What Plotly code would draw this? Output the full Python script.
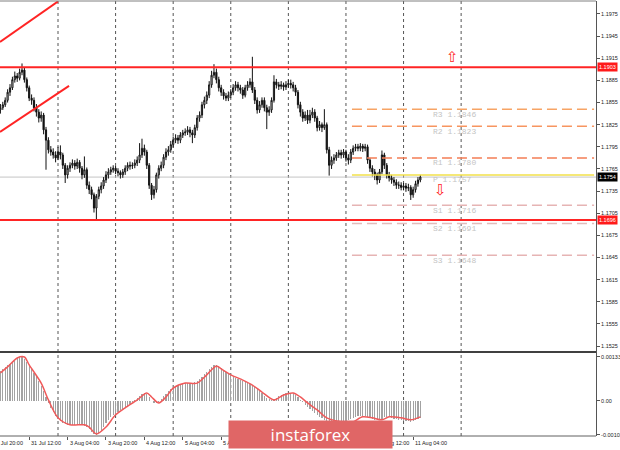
import plotly.graph_objects as go

# ---------------- data (EURUSD H1) ----------------
first_open = 1.1845
closes = [
    1.1848, 1.1852, 1.1858, 1.1869, 1.1875, 1.1886, 1.1891, 1.1888, 1.1896, 1.1899,
    1.1886, 1.1875, 1.1861, 1.1858, 1.1848, 1.1842, 1.1834, 1.1838, 1.1818, 1.1804,
    1.1791, 1.1788, 1.1784, 1.1780, 1.1788, 1.1784, 1.1770, 1.1757, 1.1766, 1.1770,
    1.1773, 1.1769, 1.1774, 1.1766, 1.1757, 1.1764, 1.1743, 1.1737, 1.1730, 1.1712,
    1.1728, 1.1737, 1.1742, 1.1750, 1.1757, 1.1761, 1.1764, 1.1766, 1.1762, 1.1760,
    1.1757, 1.1761, 1.1766, 1.1770, 1.1769, 1.1770, 1.1773, 1.1777, 1.1784, 1.1793,
    1.1788, 1.1770, 1.1743, 1.1730, 1.1737, 1.1757, 1.1766, 1.1770, 1.1781, 1.1788,
    1.1791, 1.1798, 1.1804, 1.1807, 1.1804, 1.1811, 1.1814, 1.1815, 1.1818, 1.1814,
    1.1811, 1.1821, 1.1834, 1.1838, 1.1852, 1.1858, 1.1865, 1.1879, 1.1892, 1.1896,
    1.1886, 1.1875, 1.1869, 1.1864, 1.1861, 1.1865, 1.1869, 1.1875, 1.1879, 1.1875,
    1.1872, 1.1865, 1.1875, 1.1879, 1.1883, 1.1872, 1.1858, 1.1845, 1.1852, 1.1858,
    1.1848, 1.1842, 1.1845, 1.1858, 1.1883, 1.1879, 1.1877, 1.1879, 1.1876, 1.1879,
    1.1881, 1.1879, 1.1875, 1.1869, 1.1852, 1.1842, 1.1834, 1.1838, 1.1831, 1.1838,
    1.1842, 1.1834, 1.1821, 1.1825, 1.1821, 1.1825, 1.1791, 1.1770, 1.1777, 1.1780,
    1.1784, 1.1787, 1.1784, 1.1788, 1.1780, 1.1777, 1.1788, 1.1793, 1.1795, 1.1793,
    1.1796, 1.1793, 1.1795, 1.1777, 1.1766, 1.1761, 1.1757, 1.1750, 1.1761, 1.1784,
    1.1770, 1.1757, 1.1753, 1.1750, 1.1747, 1.1743, 1.1743, 1.1740, 1.1742, 1.1739,
    1.1740, 1.1730, 1.1737, 1.1745, 1.1750, 1.1754]
highs = [
    1.1853, 1.1856, 1.1862, 1.1873, 1.1880, 1.1890, 1.1897, 1.1895, 1.1901, 1.1908,
    1.1903, 1.1889, 1.1878, 1.1866, 1.1862, 1.1853, 1.1846, 1.1843, 1.1841, 1.1822,
    1.1808, 1.1796, 1.1793, 1.1789, 1.1795, 1.1797, 1.1787, 1.1773, 1.1770, 1.1774,
    1.1778, 1.1777, 1.1779, 1.1777, 1.1769, 1.1782, 1.1767, 1.1748, 1.1741, 1.1733,
    1.1731, 1.1741, 1.1747, 1.1754, 1.1762, 1.1766, 1.1768, 1.1770, 1.1769, 1.1766,
    1.1763, 1.1765, 1.1770, 1.1774, 1.1775, 1.1774, 1.1778, 1.1782, 1.1800, 1.1806,
    1.1798, 1.1791, 1.1773, 1.1746, 1.1742, 1.1760, 1.1770, 1.1775, 1.1785, 1.1793,
    1.1796, 1.1803, 1.1809, 1.1812, 1.1811, 1.1815, 1.1818, 1.1820, 1.1823, 1.1822,
    1.1818, 1.1825, 1.1838, 1.1843, 1.1856, 1.1863, 1.1870, 1.1884, 1.1898, 1.1907,
    1.1901, 1.1890, 1.1879, 1.1873, 1.1868, 1.1870, 1.1873, 1.1880, 1.1884, 1.1883,
    1.1879, 1.1876, 1.1879, 1.1884, 1.1888, 1.1917, 1.1876, 1.1862, 1.1857, 1.1862,
    1.1862, 1.1852, 1.1850, 1.1862, 1.1892, 1.1887, 1.1883, 1.1884, 1.1882, 1.1884,
    1.1886, 1.1886, 1.1883, 1.1879, 1.1872, 1.1856, 1.1846, 1.1843, 1.1845, 1.1845,
    1.1848, 1.1846, 1.1837, 1.1830, 1.1828, 1.1846, 1.1828, 1.1795, 1.1782, 1.1785,
    1.1788, 1.1791, 1.1791, 1.1792, 1.1791, 1.1785, 1.1792, 1.1797, 1.1799, 1.1799,
    1.1800, 1.1799, 1.1799, 1.1798, 1.1780, 1.1770, 1.1765, 1.1760, 1.1765, 1.1790,
    1.1787, 1.1773, 1.1761, 1.1757, 1.1754, 1.1751, 1.1748, 1.1747, 1.1746, 1.1746,
    1.1745, 1.1743, 1.1741, 1.1749, 1.1754, 1.1757]
lows = [
    1.1840, 1.1845, 1.1849, 1.1855, 1.1864, 1.1872, 1.1882, 1.1883, 1.1885, 1.1892,
    1.1882, 1.1870, 1.1857, 1.1852, 1.1843, 1.1836, 1.1828, 1.1829, 1.1812, 1.1764,
    1.1786, 1.1783, 1.1779, 1.1774, 1.1777, 1.1778, 1.1765, 1.1746, 1.1752, 1.1761,
    1.1766, 1.1764, 1.1765, 1.1760, 1.1751, 1.1753, 1.1738, 1.1731, 1.1724, 1.1706,
    1.1697, 1.1724, 1.1732, 1.1738, 1.1746, 1.1752, 1.1757, 1.1760, 1.1758, 1.1755,
    1.1752, 1.1753, 1.1757, 1.1762, 1.1764, 1.1765, 1.1766, 1.1769, 1.1773, 1.1780,
    1.1783, 1.1765, 1.1738, 1.1723, 1.1725, 1.1733, 1.1752, 1.1762, 1.1766, 1.1777,
    1.1783, 1.1787, 1.1794, 1.1800, 1.1799, 1.1800, 1.1807, 1.1810, 1.1811, 1.1808,
    1.1800, 1.1807, 1.1817, 1.1829, 1.1834, 1.1847, 1.1853, 1.1861, 1.1875, 1.1888,
    1.1881, 1.1870, 1.1864, 1.1859, 1.1857, 1.1857, 1.1861, 1.1865, 1.1871, 1.1870,
    1.1867, 1.1860, 1.1862, 1.1871, 1.1875, 1.1868, 1.1853, 1.1840, 1.1841, 1.1848,
    1.1843, 1.1819, 1.1837, 1.1841, 1.1855, 1.1874, 1.1872, 1.1873, 1.1871, 1.1872,
    1.1875, 1.1874, 1.1870, 1.1864, 1.1847, 1.1836, 1.1829, 1.1830, 1.1826, 1.1827,
    1.1834, 1.1829, 1.1816, 1.1817, 1.1815, 1.1818, 1.1786, 1.1756, 1.1765, 1.1772,
    1.1776, 1.1780, 1.1779, 1.1780, 1.1775, 1.1771, 1.1773, 1.1784, 1.1789, 1.1789,
    1.1789, 1.1788, 1.1789, 1.1772, 1.1761, 1.1755, 1.1750, 1.1744, 1.1746, 1.1758,
    1.1765, 1.1752, 1.1748, 1.1745, 1.1742, 1.1738, 1.1738, 1.1736, 1.1736, 1.1734,
    1.1735, 1.1723, 1.1726, 1.1733, 1.1741, 1.1747]

macd_hist = [
    0.00092, 0.00097, 0.00102, 0.00108, 0.00113, 0.00119, 0.00125, 0.00130, 0.00133, 0.00132,
    0.00126, 0.00118, 0.00108, 0.00097, 0.00086, 0.00074, 0.00060, 0.00046, 0.00030, 0.00012,
    -0.00005, -0.00020, -0.00034, -0.00046, -0.00055, -0.00062, -0.00067, -0.00071, -0.00073, -0.00074,
    -0.00073, -0.00072, -0.00072, -0.00072, -0.00073, -0.00075, -0.00079, -0.00086, -0.00094, -0.00100,
    -0.00102, -0.00098, -0.00090, -0.00080, -0.00068, -0.00058, -0.00050, -0.00043, -0.00038, -0.00033,
    -0.00028, -0.00024, -0.00019, -0.00014, -0.00009, -0.00004, 0.00002, 0.00008, 0.00015, 0.00021,
    0.00025, 0.00022, 0.00012, 0.00001, -0.00005, -0.00006, -0.00002, 0.00006, 0.00014, 0.00022,
    0.00030, 0.00036, 0.00041, 0.00045, 0.00048, 0.00051, 0.00053, 0.00054, 0.00054, 0.00054,
    0.00055, 0.00057, 0.00061, 0.00066, 0.00072, 0.00080, 0.00088, 0.00096, 0.00103, 0.00108,
    0.00108, 0.00105, 0.00100, 0.00094, 0.00088, 0.00083, 0.00078, 0.00074, 0.00070, 0.00067,
    0.00064, 0.00061, 0.00058, 0.00055, 0.00052, 0.00048, 0.00043, 0.00037, 0.00030, 0.00023,
    0.00016, 0.00010, 0.00005, 0.00003, 0.00005, 0.00010, 0.00015, 0.00019, 0.00022, 0.00024,
    0.00025, 0.00025, 0.00023, 0.00019, 0.00012, 0.00004, -0.00004, -0.00012, -0.00019, -0.00025,
    -0.00030, -0.00036, -0.00042, -0.00048, -0.00053, -0.00058, -0.00062, -0.00066, -0.00068, -0.00069,
    -0.00069, -0.00068, -0.00066, -0.00063, -0.00060, -0.00058, -0.00055, -0.00052, -0.00049, -0.00047,
    -0.00045, -0.00045, -0.00047, -0.00050, -0.00053, -0.00055, -0.00057, -0.00058, -0.00057, -0.00054,
    -0.00050, -0.00049, -0.00050, -0.00052, -0.00054, -0.00056, -0.00058, -0.00059, -0.00060, -0.00061,
    -0.00062, -0.00063, -0.00062, -0.00059, -0.00056, -0.00052]

signal_idx = [0, 3, 7, 10, 12, 17, 20, 24, 29, 35, 37, 40, 44, 48, 52, 57, 61, 63, 66, 69,
              72, 77, 82, 86, 90, 92, 96, 101, 105, 109, 114, 118, 122, 125, 128, 132, 136,
              142, 146, 151, 155, 159, 162, 167, 171, 175]
signal_vals = [0.00085, 0.00103, 0.00130, 0.00133, 0.00109, 0.00054, 0.00003, -0.00051, -0.00072, -0.00072,
               -0.00079, -0.00100, -0.00079, -0.00042, -0.00021, 0.00003, 0.00024, 0.00012, -0.00006, 0.00012,
               0.00039, 0.00054, 0.00054, 0.00079, 0.00106, 0.00097, 0.00079, 0.00063, 0.00048, 0.00027,
               0.00003, 0.00018, 0.00024, 0.00012, -0.00006, -0.00027, -0.00051, -0.00063, -0.00066, -0.00048,
               -0.00051, -0.00057, -0.00048, -0.00051, -0.00057, -0.00048]

# time axis labels (bar index of the label's left edge -> label), daily grid
# (labels lying fully under the watermark are not visible in the reference)
xlabel_idx = [-4, 12, 28, 44, 60, 76, 92, 156, 172]
xlabel_txt = ["30 Jul 20:00", "31 Jul 12:00", "3 Aug 04:00", "3 Aug 20:00", "4 Aug 12:00",
              "5 Aug 04:00", "5 Aug 20:00", "10 Aug 12:00", "11 Aug 04:00"]
grid_idx = [24, 48, 72, 96, 120, 144, 168, 192]

price_ticks = [1.1525, 1.1555, 1.1585, 1.1615, 1.1645, 1.1675, 1.1705, 1.1735,
               1.1765, 1.1795, 1.1825, 1.1855, 1.1885, 1.1915, 1.1945, 1.1975]
macd_ticks = [0.00133, 0.0, -0.00102]
macd_tick_txt = ["0.00133", "0.00", "-0.00102"]

resistance = 1.1903
support = 1.1696
bid = 1.1754
pivot_names = ["R3", "R2", "R1", "P", "S1", "S2", "S3"]
pivot_vals = [1.1846, 1.1823, 1.1780, 1.1757, 1.1716, 1.1691, 1.1648]
pivot_colors = ["#f7a465", "#f79560", "#f47e55", "#f2e04a", "#e6b4b4", "#e2bcbc", "#e6b4b4"]
channel_upper = ([-0.17, 24.0], [1.1937, 1.1992])
channel_lower = ([-0.17, 28.6], [1.18151, 1.18775])

# ---------------- figure ----------------
idx = list(range(len(closes)))
opens = [first_open] + closes[:-1]

X_RANGE = [-0.17, 248.2]
P_BOT = 84 / 435
BAR_PX = 2.4  # pixels per bar

fig = go.Figure()
fig.add_trace(go.Candlestick(
    x=idx, open=opens, high=highs, low=lows, close=closes,
    xaxis="x", yaxis="y", whiskerwidth=0,
    increasing=dict(line=dict(color="#111111", width=1), fillcolor="#ffffff"),
    decreasing=dict(line=dict(color="#111111", width=1), fillcolor="#111111"),
    showlegend=False, hoverinfo="skip"))
fig.add_trace(go.Bar(
    x=idx, y=macd_hist, xaxis="x2", yaxis="y2", width=0.5,
    marker=dict(color="#a2a2a2", line=dict(width=0)), showlegend=False, hoverinfo="skip"))
fig.add_trace(go.Scatter(
    x=signal_idx, y=signal_vals, xaxis="x2", yaxis="y2", mode="lines",
    line=dict(color="#f05a5a", width=1.5, shape="spline", smoothing=0.8),
    showlegend=False, hoverinfo="skip"))

shapes = []
for g in grid_idx:
    shapes.append(dict(type="line", xref="x", yref="paper", x0=g, x1=g, y0=0, y1=1,
                       line=dict(color="#555555", width=1, dash="dot"), layer="below"))
shapes.append(dict(type="line", xref="paper", yref="y", x0=0, x1=1, y0=bid, y1=bid,
                   line=dict(color="#c4c4c4", width=1), layer="below"))
for name, v, c in zip(pivot_names, pivot_vals, pivot_colors):
    if name == "P":
        ln = dict(color=c, width=1.5)
    else:
        ln = dict(color=c, width=1.5, dash="10px,5px")
    shapes.append(dict(type="line", xref="x", yref="y", x0=146.5, x1=247.4, y0=v, y1=v,
                       line=ln, layer="above"))
for lv in (resistance, support):
    shapes.append(dict(type="line", xref="paper", yref="y", x0=0, x1=1, y0=lv, y1=lv,
                       line=dict(color="#ff2424", width=2), layer="above"))
for (xs, ys) in (channel_upper, channel_lower):
    shapes.append(dict(type="line", xref="x", yref="y", x0=xs[0], x1=xs[1], y0=ys[0], y1=ys[1],
                       line=dict(color="#ff2424", width=2), layer="above"))
shapes.append(dict(type="line", xref="paper", yref="paper", x0=0, x1=1, y0=1, y1=1,
                   line=dict(color="#808080", width=1)))
shapes.append(dict(type="line", xref="paper", yref="paper", x0=0, x1=1, y0=P_BOT, y1=P_BOT,
                   line=dict(color="#404040", width=2)))
shapes.append(dict(type="line", xref="paper", yref="paper", x0=0, x1=1, y0=0, y1=0,
                   line=dict(color="#606060", width=1)))

ann = []
for name, v in zip(pivot_names, pivot_vals):
    ann.append(dict(x=179.5, y=v, xref="x", yref="y", text=f"{name} {v:.4f}", showarrow=False,
                    xanchor="left", yanchor="middle", yshift=-5,
                    font=dict(family="Liberation Mono", size=8, color="#c4c4c4")))
ann.append(dict(x=188.6, y=1.1917, xref="x", yref="y", text="⇧", showarrow=False,
                font=dict(family="DejaVu Sans", size=15, color="#ff2424")))
ann.append(dict(x=183.6, y=1.1736, xref="x", yref="y", text="⇩", showarrow=False,
                font=dict(family="DejaVu Sans", size=15, color="#ff2424")))
for v, bg in ((resistance, "#ff1a1a"), (support, "#ff1a1a"), (bid, "#000000")):
    ann.append(dict(x=1, y=v, xref="paper", yref="y", text=f"{v:.4f}", showarrow=False,
                    xanchor="left", yanchor="middle", xshift=1, bgcolor=bg, borderpad=1,
                    font=dict(family="Liberation Sans", size=5.5, color="#ffffff")))
for xi, t in zip(xlabel_idx, xlabel_txt):
    ann.append(dict(x=max(xi, 0), y=-7 / 435, xref="x", yref="paper", text=t, showarrow=False,
                    xanchor="left", yanchor="middle", xshift=(xi - max(xi, 0)) * BAR_PX,
                    font=dict(family="Liberation Sans", size=5.5, color="#222222")))
ann.append(dict(x=310.5 / 596, y=1.5 / 435, xref="paper", yref="paper", text="instaforex",
                showarrow=False, xanchor="center", yanchor="middle", width=163, height=27,
                bgcolor="#e06666", borderpad=0,
                font=dict(family="Open Sans", size=17, color="#ffffff")))

axis_font = dict(family="Liberation Sans", size=5.5, color="#222222")
fig.update_layout(
    width=620, height=450,
    margin=dict(l=0, r=24, t=1, b=14, autoexpand=False),
    paper_bgcolor="#ffffff", plot_bgcolor="#ffffff",
    showlegend=False, hovermode=False, bargap=0,
    xaxis=dict(domain=[0, 1], range=X_RANGE, anchor="y", showticklabels=False, showgrid=False,
               zeroline=False, rangeslider=dict(visible=False), ticks="", fixedrange=True),
    xaxis2=dict(domain=[0, 1], range=X_RANGE, anchor="y2", matches="x", tickvals=xlabel_idx,
                ticks="outside", ticklen=3, tickcolor="#555555", showticklabels=False,
                showgrid=False, zeroline=False),
    yaxis=dict(domain=[P_BOT, 1], range=[1.15170, 1.19926], side="right", anchor="x",
               tickvals=price_ticks, ticktext=[f"{v:.4f}" for v in price_ticks],
               ticks="outside", ticklen=3, tickcolor="#555555", tickfont=axis_font,
               showline=True, linecolor="#555555", linewidth=1, showgrid=False, zeroline=False),
    yaxis2=dict(domain=[0, P_BOT], range=[-0.00106, 0.00148], side="right", anchor="x2",
                tickvals=macd_ticks, ticktext=macd_tick_txt, ticks="outside", ticklen=3,
                tickcolor="#555555", tickfont=axis_font, showline=True, linecolor="#555555",
                linewidth=1, showgrid=False, zeroline=False),
    shapes=shapes, annotations=ann,
)

fig.write_html(
    "out.html",
    config={"displayModeBar": False, "staticPlot": True},
    post_script="document.body.style.margin='0';document.body.style.overflow='hidden';",
)
